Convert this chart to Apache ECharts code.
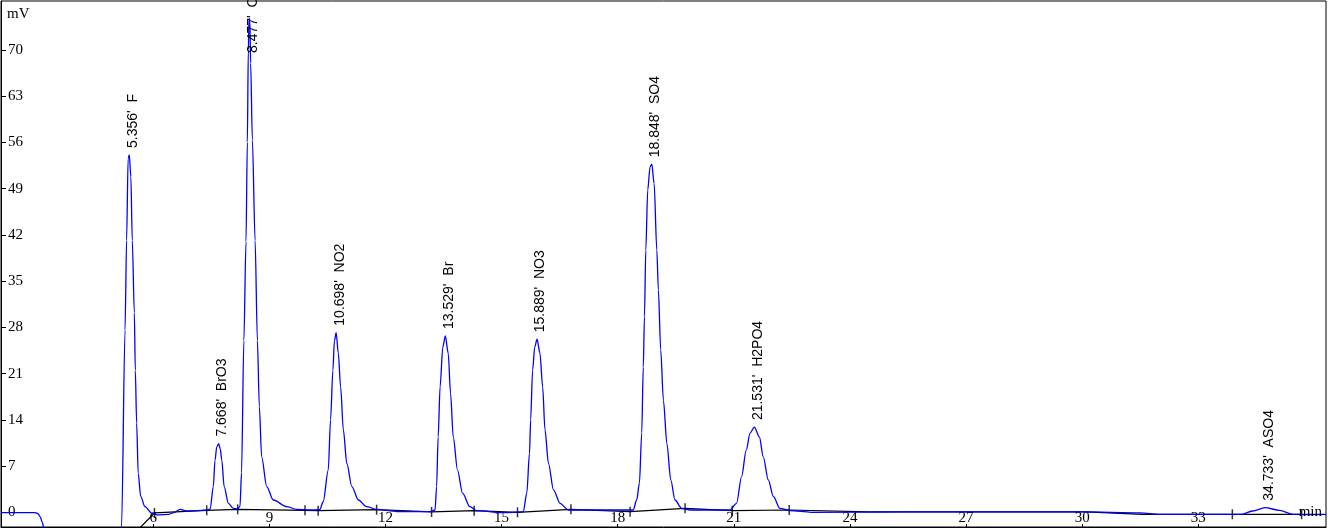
<!DOCTYPE html>
<html>
<head>
<meta charset="utf-8">
<script src="https://cdn.jsdelivr.net/npm/echarts@6/dist/echarts.min.js"></script>
<style>
  html, body { margin: 0; padding: 0; background: #fff; }
  #chart { width: 1329px; height: 528px; }
</style>
</head>
<body>
<div id="chart"></div>
<script>
// axis ticks
const xTicks = [6, 9, 12, 15, 18, 21, 24, 27, 30, 33];
const yTicks = [0, 7, 14, 21, 28, 35, 42, 49, 56, 63, 70];

// peak table
const peakTimes = [5.356, 7.668, 8.477, 10.698, 13.529, 15.889, 18.848, 21.531, 34.733];
const peakNames = ['F', 'BrO3', 'Cl', 'NO2', 'Br', 'NO3', 'SO4', 'H2PO4', 'ASO4'];
const peakMv = [54.1, 10.4, 74.8, 27.2, 26.7, 26.2, 52.7, 12.9, 0.7];
// where the plotted apex sits (slightly right of the reported time)
const apexTimes = [5.38, 7.69, 8.485, 10.725, 13.545, 15.915, 18.88, 21.53, 34.73];

// detector trace, [min, mV]
const trace = [
  [2.065, -0.05], [2.95, -0.05], [3.02, -0.2], [3.08, -0.7], [3.13, -1.5], [3.18, -2.6],
  [3.3, -4.2], [3.5, -5.3], [4.0, -5.9], [4.6, -5.8], [5.1, -5.4], [5.15, -4.6],
  // F
  [5.18, -2.2], [5.27, 27.6], [5.31, 41.2], [5.35, 53.6], [5.38, 54.1], [5.42, 50.8],
  [5.457, 41.2], [5.51, 30.2], [5.535, 21.5], [5.57, 13.5], [5.61, 5.9], [5.675, 2.4],
  [5.785, 0.85], [5.96, -0.15], [6.1, -0.4], [6.4, -0.3],
  [6.55, 0.0], [6.69, 0.45], [6.85, 0.2], [7.1, 0.25], [7.38, 0.35],
  // BrO3
  [7.47, 0.5], [7.55, 3.9], [7.595, 7.9], [7.64, 9.9], [7.69, 10.4], [7.73, 9.6],
  [7.77, 7.9], [7.83, 3.9], [7.94, 1.36], [8.07, 0.6], [8.18, 0.5],
  // Cl
  [8.24, 0.9], [8.28, 6], [8.34, 26], [8.395, 41], [8.43, 56], [8.455, 70], [8.475, 74.8],
  [8.495, 74.5], [8.515, 68], [8.56, 56.4], [8.63, 41.2], [8.69, 26], [8.74, 16],
  [8.80, 8.4], [8.93, 3.9], [9.1, 1.86], [9.45, 0.85], [9.7, 0.45], [10.05, 0.35],
  // NO2
  [10.30, 0.4], [10.39, 1.6], [10.52, 6.4], [10.58, 14], [10.64, 21.5], [10.68, 26],
  [10.725, 27.2], [10.78, 24.1], [10.84, 19], [10.91, 12.5], [11.0, 7.4], [11.13, 3.9],
  [11.3, 1.86], [11.51, 0.85], [11.77, 0.45], [12.3, 0.1], [13.15, 0.1],
  // Br
  [13.28, 0.35], [13.32, 3.9], [13.36, 11.4], [13.41, 19], [13.48, 25], [13.545, 26.7],
  [13.62, 24.1], [13.68, 18], [13.75, 11.4], [13.86, 6.4], [13.99, 2.9], [14.18, 0.85],
  [14.36, 0.25], [15.0, -0.05], [15.5, 0.05],
  // NO3
  [15.56, 0.1], [15.65, 2.9], [15.72, 8.9], [15.75, 14], [15.80, 21.5], [15.855, 25],
  [15.915, 26.2], [15.99, 24.1], [16.06, 19], [16.12, 12.5], [16.21, 7.4], [16.34, 3.4],
  [16.51, 1.36], [16.72, 0.35], [17.5, 0.35], [18.3, 0.35],
  // SO4
  [18.40, 0.35], [18.49, 1.86], [18.56, 4.4], [18.62, 12], [18.66, 22], [18.69, 29.6],
  [18.725, 39.7], [18.775, 48.8], [18.835, 52.3], [18.88, 52.7], [18.94, 49.8], [19.01, 39.7],
  [19.05, 33.7], [19.11, 24.6], [19.18, 17], [19.27, 10.4], [19.37, 4.9], [19.48, 1.86],
  [19.65, 0.6], [19.87, 0.35], [20.9, 0.35],
  // H2PO4
  [21.07, 1.36], [21.20, 5.4], [21.32, 9.4], [21.42, 12], [21.53, 12.9], [21.66, 11.4],
  [21.76, 8.4], [21.89, 4.9], [22.02, 2.4], [22.19, 0.6], [22.45, 0.25], [23.0, 0.0],
  [25.5, 0.05], [30.0, 0.05], [31.5, -0.1], [32.0, -0.3],
  // ASO4
  [34.12, -0.3], [34.4, 0.2], [34.73, 0.7], [35.1, 0.3], [35.45, -0.3], [36.3, -0.3]
];

// integration baseline and its cut marks
const baseline = [
  [5.18, -5.2], [6.03, -0.1], [7.38, 0.3], [8.18, 0.45], [9.92, 0.3], [10.26, 0.25],
  [11.77, 0.4], [13.19, 0.05], [14.29, 0.25], [15.41, 0.0], [16.79, 0.45], [18.32, 0.1],
  [19.74, 0.6], [20.96, 0.25], [22.43, 0.35], [24.5, 0.05], [30.1, 0.05], [31.56, -0.3],
  [33.88, -0.3], [35.67, -0.3]
];
const cuts = [
  [6.03, -0.1], [7.38, 0.3], [8.18, 0.45], [9.92, 0.3], [10.26, 0.25], [11.77, 0.4],
  [13.19, 0.05], [14.29, 0.25], [15.41, 0.0], [16.79, 0.45], [18.32, 0.1], [19.74, 0.6],
  [20.96, 0.25], [22.43, 0.35], [33.88, -0.3], [35.67, -0.3]
];

const serif = '"Liberation Serif", "Times New Roman", serif';
const sans = '"Liberation Sans", Arial, sans-serif';

const chart = echarts.init(document.getElementById('chart'), null, { renderer: 'canvas' });

const labelData = apexTimes.map((t, i) => [t, peakMv[i]]);

chart.setOption({
  animation: false,
  backgroundColor: '#fff',
  title: [
    { text: 'mV', left: 2, top: 2, textStyle: { fontFamily: serif, fontSize: 15, fontWeight: 'normal', color: '#000' } },
    { text: 'min', right: 2, bottom: 3, textStyle: { fontFamily: serif, fontSize: 15, fontWeight: 'normal', color: '#000' } }
  ],
  grid: {
    left: 1, right: 3, top: 1, bottom: 1,
    show: true, borderColor: '#000', borderWidth: 1, backgroundColor: 'transparent'
  },
  xAxis: {
    type: 'value', min: 2.065, max: 36.3,
    axisLine: { show: true, onZero: false, lineStyle: { color: '#000', width: 1 } },
    axisTick: { show: true, inside: true, length: 3, customValues: xTicks, lineStyle: { color: '#000' } },
    axisLabel: {
      inside: true, margin: 1, customValues: xTicks,
      fontFamily: serif, fontSize: 15, color: '#000'
    },
    splitLine: { show: false }
  },
  yAxis: {
    type: 'value', min: -2.226, max: 77.42,
    axisLine: { show: true, onZero: false, lineStyle: { color: '#000', width: 1 } },
    axisTick: { show: true, inside: true, length: 5, customValues: yTicks, lineStyle: { color: '#000' } },
    axisLabel: {
      inside: true, margin: 7, customValues: yTicks,
      fontFamily: serif, fontSize: 15, color: '#000'
    },
    splitLine: { show: false }
  },
  series: [
    {
      type: 'line', data: baseline, showSymbol: false, silent: true, z: 1,
      lineStyle: { color: '#000', width: 1.2 }
    },
    {
      type: 'scatter', data: cuts, symbol: 'rect', symbolSize: [1.5, 10], silent: true, z: 2,
      itemStyle: { color: '#000' }
    },
    {
      type: 'line', data: trace, showSymbol: false, silent: true, z: 3,
      smooth: 0.3, smoothMonotone: 'x',
      lineStyle: { color: '#0000ff', width: 1.3 }
    },
    {
      type: 'custom', data: labelData, silent: true, z: 4, clip: false,
      renderItem: function (params, api) {
        const p = api.coord([api.value(0), api.value(1)]);
        const i = params.dataIndex;
        const y = Math.max(p[1] - 7, 53);
        return {
          type: 'text',
          x: p[0] + 3.5,
          y: y,
          rotation: Math.PI / 2,
          style: {
            text: peakTimes[i].toFixed(3) + "'  " + peakNames[i],
            font: '14px ' + sans,
            fill: '#000',
            align: 'left',
            verticalAlign: 'middle'
          }
        };
      }
    }
  ]
});
</script>
</body>
</html>
